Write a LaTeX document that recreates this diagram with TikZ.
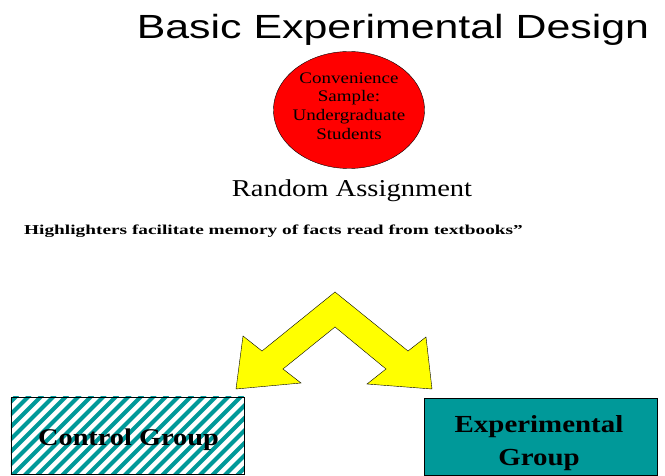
\documentclass[tikz,border=0pt]{standalone}
\usepackage{fontspec}
\setmainfont{Liberation Serif}
\newfontfamily\titlefont[FakeStretch=1.28]{Liberation Sans}
\newfontfamily\wideserif[FakeStretch=1.18]{Liberation Serif}
\newfontfamily\widerserif[FakeStretch=1.42]{Liberation Serif}
\usetikzlibrary{shapes.geometric, positioning}
\definecolor{groupteal}{RGB}{0,153,153}
\definecolor{samplered}{RGB}{255,0,0}
\definecolor{arrowyellow}{RGB}{255,255,0}

\begin{document}
\begin{tikzpicture}[x=1pt, y=-1pt,
  label/.style={inner sep=0pt, anchor=base},
  groupbox/.style={draw=black, thin, minimum width=233pt, minimum height=77pt, inner sep=0pt},
  stripe/.style={groupteal, line width=4pt}]
  \useasboundingbox (0,0) rectangle (665,476);

  \node[label, font=\titlefont\fontsize{33.5}{40}\selectfont] (title) at (393,39) {Basic Experimental Design};

  \node[ellipse, draw=black, thin, fill=samplered, minimum width=151pt, minimum height=117pt, inner sep=0pt] (sample) at (349,110) {};
  \node[align=center, inner sep=0pt, font=\wideserif\fontsize{16.1}{18.7}\selectfont] (sampletext) at (349,106)
    {Convenience\\Sample:\\Undergraduate\\Students};

  \node[label, font=\wideserif\fontsize{24.2}{28}\selectfont] (assign) at (352,196.5) {Random Assignment};

  \node[label, anchor=base west, font=\widerserif\bfseries\fontsize{13.6}{16}\selectfont] (hypo) at (24,235)
    {Highlighters facilitate memory of facts read from textbooks”};

  % split arrow
  \coordinate (peak) at (335,292);
  \coordinate (notch) at (335,327);
  \filldraw[fill=arrowyellow, draw=black, thin, line join=miter]
    (peak) -- (262,351) -- (243,336) -- (236,389) -- (301,383) -- (283,369) -- (notch)
    -- (386,369) -- (367,384) -- (432,389) -- (426,337) -- (408,351) -- cycle;

  % control group, striped
  \node[groupbox, fill=white] (control) at (127.5,435.5) {};
  \begin{scope}
    \clip (control.south west) rectangle (control.north east);
    \foreach \s in {-80,-67.5,...,250} {
      \draw[stripe] (\s,480) -- ++(85,-85);
    }
  \end{scope}
  \draw[black, thin] (control.south west) rectangle (control.north east);
  \node[label, font=\wideserif\bfseries\fontsize{24}{28}\selectfont] (controltext) at (128.5,445) {Control Group};

  \node[groupbox, fill=groupteal] (exper) at (540.5,436.5) {};
  \node[label, font=\wideserif\bfseries\fontsize{24.5}{28}\selectfont] (expertext) at (539,432.3) {Experimental};
  \node[label, font=\wideserif\bfseries\fontsize{24.5}{28}\selectfont] (expergroup) at (539,465) {Group};
\end{tikzpicture}
\end{document}
